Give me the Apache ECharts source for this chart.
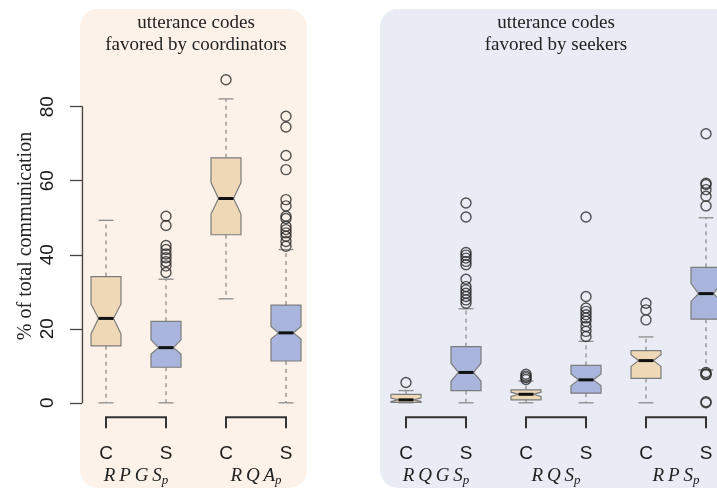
<!DOCTYPE html>
<html>
<head>
<meta charset="utf-8">
<script src="https://cdn.jsdelivr.net/npm/echarts@6/dist/echarts.min.js"></script>
<style>
  html, body { margin: 0; padding: 0; background: #ffffff; }
  #chart { width: 717px; height: 489px; }
</style>
</head>
<body>
<div id="chart"></div>
<script>
// Box positions on the x scale (a gap is left between the two panels)
const positions = [1, 2, 3, 4, 6, 7, 8, 9, 10, 11];
const roles = ['C', 'S', 'C', 'S', 'C', 'S', 'C', 'S', 'C', 'S'];

// Box statistics (% of total communication)
const whiskerLow  = [0,    0,    28.1, 0,    0,    0,    0,    0,    0,    8.9];
const q1          = [15.4, 9.6,  45.4, 11.3, 0.1,  3.3,  0.8,  2.6,  6.6,  22.6];
const notchLow    = [18.6, 13.2, 51.0, 17.2, 0.34, 5.8,  1.73, 4.6,  9.8,  27.4];
const medians     = [22.8, 14.9, 55.2, 18.9, 0.8,  8.2,  2.3,  6.2,  11.4, 29.5];
const notchHigh   = [26.7, 17.0, 59.5, 20.6, 1.26, 10.7, 2.87, 7.8,  13.0, 32.3];
const q3          = [34.1, 22.0, 66.2, 26.4, 2.3,  15.2, 3.5,  10.1, 14.1, 36.6];
const whiskerHigh = [49.3, 33.4, 82.1, 41.4, 3.3,  25.4, 5.9,  16.6, 17.8, 50.0];

const outliers = [
  [],
  [50.4, 47.9, 42.5, 41.4, 40.2, 39.2, 38.1, 37.0, 35.2],
  [87.3],
  [77.4, 74.5, 66.8, 63.0, 54.9, 53.2, 50.4, 49.8, 47.7, 46.8, 45.9, 45.0, 43.6, 42.3],
  [5.5],
  [54.0, 50.2, 40.6, 39.9, 39.1, 38.2, 37.3, 33.4, 31.4, 30.5, 29.6, 28.7, 27.8, 26.9],
  [7.7, 7.2, 6.8, 6.3],
  [50.2, 28.7, 25.6, 24.7, 23.8, 22.9, 22.0, 20.6, 19.3, 17.9],
  [26.9, 25.1, 22.4],
  [72.7, 59.3, 59.0, 57.6, 55.8, 53.2, 8.2, 7.8, 7.6, 0.3, 0]
];

// Code groups: each pairs a coordinator box (C) with a seeker box (S)
const groupNames = ['RPGS', 'RQA', 'RQGS', 'RQS', 'RPS'];
const groupPairs = [[1, 2], [3, 4], [6, 7], [8, 9], [10, 11]];
const groupCenters = groupPairs.map(p => (p[0] + p[1]) / 2);

// Shaded panels and their headings
const panelTitles = ['utterance codes\nfavored by coordinators', 'utterance codes\nfavored by seekers'];
const panelSpans = [[1, 4], [6, 11]];

const yTicks = [0, 20, 40, 60, 80];

const fillC = '#efd8b6';
const fillS = '#a9b5dd';
const panelFill = ['#fcf2e9', '#e9ebf5'];
const serif = '"Liberation Serif", "Times New Roman", serif';
const sans = '"Liberation Sans", Arial, sans-serif';

const BOX_W = 0.5;   // box width in x units

const boxData = positions.map((p, i) => [p, whiskerLow[i], q1[i], notchLow[i], medians[i], notchHigh[i], q3[i], whiskerHigh[i]]);
const outlierData = [];
outliers.forEach((arr, i) => arr.forEach(v => outlierData.push([positions[i], v])));

function renderBox(params, api) {
  const i = params.dataIndex;
  const x = api.value(0);
  const lo = api.value(1), b1 = api.value(2), nl = api.value(3), md = api.value(4),
        nh = api.value(5), b3 = api.value(6), hi = api.value(7);
  const hw = BOX_W / 2;
  const c = (xx, yy) => api.coord([xx, yy]);
  const poly = [
    c(x - hw, b1), c(x - hw, nl), c(x - hw / 2, md), c(x - hw, nh), c(x - hw, b3),
    c(x + hw, b3), c(x + hw, nh), c(x + hw / 2, md), c(x + hw, nl), c(x + hw, b1)
  ];
  const line = (a, b, style) => ({
    type: 'line',
    shape: { x1: a[0], y1: a[1], x2: b[0], y2: b[1] },
    style: style
  });
  const dashStyle = { stroke: '#8d8d8d', lineWidth: 1.3, lineDash: [4, 4] };
  const capStyle = { stroke: '#8d8d8d', lineWidth: 1.3 };
  return {
    type: 'group',
    children: [
      line(c(x, b3), c(x, hi), dashStyle),
      line(c(x, b1), c(x, lo), dashStyle),
      line(c(x - hw / 2, hi), c(x + hw / 2, hi), capStyle),
      line(c(x - hw / 2, lo), c(x + hw / 2, lo), capStyle),
      {
        type: 'polygon',
        shape: { points: poly },
        style: { fill: roles[i] === 'C' ? fillC : fillS, stroke: '#7c7c7c', lineWidth: 1.2 }
      },
      line(c(x - hw / 2, md), c(x + hw / 2, md), { stroke: '#111', lineWidth: 3 })
    ]
  };
}

const chart = echarts.init(document.getElementById('chart'), null, { renderer: 'canvas' });

chart.setOption({
  backgroundColor: '#ffffff',
  animation: false,
  grid: { left: 82, right: 0, top: 106.7, bottom: 86.2, containLabel: false },
  xAxis: [
    {
      type: 'value', min: 0.6, max: 11.18333, z: 10,
      axisLine: { show: false }, axisTick: { show: false }, splitLine: { show: false },
      axisLabel: {
        customValues: positions,
        formatter: v => roles[positions.indexOf(v)] || '',
        margin: 40.6, fontFamily: sans, fontSize: 19, lineHeight: 20, color: '#1a1a1a'
      }
    },
    {
      type: 'value', min: 0.6, max: 11.18333, position: 'bottom', z: 10,
      axisLine: { show: false }, axisTick: { show: false }, splitLine: { show: false },
      axisLabel: {
        customValues: groupCenters,
        formatter: v => {
          const name = groupNames[groupCenters.indexOf(v)] || '';
          return '{m|' + name.split('').join('\u2009') + '}{s|p}';
        },
        margin: 62.2,
        rich: {
          m: { fontFamily: serif, fontStyle: 'italic', fontSize: 19, lineHeight: 22, color: '#222', verticalAlign: 'middle' },
          s: { fontFamily: serif, fontStyle: 'italic', fontSize: 13, lineHeight: 22, color: '#222', verticalAlign: 'bottom' }
        }
      }
    }
  ],
  yAxis: {
    type: 'value', min: 0, max: 80, interval: 20, z: 10,
    axisLine: { show: true, lineStyle: { color: '#444', width: 1.3 } },
    axisTick: { show: true, length: 12, lineStyle: { color: '#444', width: 1.3 } },
    splitLine: { show: false },
    axisLabel: {
      rotate: 90, margin: 25, fontFamily: sans, fontSize: 19, lineHeight: 19, color: '#1a1a1a',
      formatter: v => (yTicks.indexOf(v) >= 0 ? String(v) : '')
    }
  },
  series: [
    {
      // shaded panels behind each set of codes
      type: 'custom', z: -5, clip: false, silent: true,
      data: panelSpans.map((s, k) => [s[0], s[1], k]),
      renderItem: (params, api) => {
        const k = api.value(2);
        const p0 = api.coord([api.value(0) - 0.4333, 106.4]);
        const p1 = api.coord([api.value(1) + (k === 0 ? 0.35 : 1.0), -23.0]);
        return {
          type: 'rect',
          shape: { x: p0[0], y: p0[1], width: p1[0] - p0[0], height: p1[1] - p0[1], r: 18 },
          style: { fill: panelFill[k] }
        };
      }
    },
    {
      // panel headings
      type: 'custom', z: 3, clip: false, silent: true,
      data: panelSpans.map((s, k) => [(s[0] + s[1]) / 2, k]),
      renderItem: (params, api) => {
        const p = api.coord([api.value(0), 99.6]);
        return {
          type: 'text', x: p[0], y: p[1],
          style: {
            text: panelTitles[api.value(1)], font: '19px ' + serif, fill: '#222',
            align: 'center', verticalAlign: 'middle', lineHeight: 22
          }
        };
      }
    },
    {
      // vertical axis title
      type: 'custom', z: 3, clip: false, silent: true,
      data: [[-0.3417, 45.07]],
      renderItem: (params, api) => {
        const p = api.coord([api.value(0), api.value(1)]);
        return {
          type: 'text', x: p[0], y: p[1], rotation: Math.PI / 2,
          style: {
            text: '% of total communication', font: '20px ' + serif, fill: '#222',
            align: 'center', verticalAlign: 'middle'
          }
        };
      }
    },
    {
      // brackets joining each C/S pair
      type: 'custom', z: 3, clip: false, silent: true,
      data: groupPairs,
      renderItem: (params, api) => {
        const a = api.coord([api.value(0), -6.9]);
        const b = api.coord([api.value(0), -3.9]);
        const c = api.coord([api.value(1), -3.9]);
        const d = api.coord([api.value(1), -6.9]);
        return {
          type: 'polyline',
          shape: { points: [a, b, c, d] },
          style: { stroke: '#333', lineWidth: 2, fill: null }
        };
      }
    },
    {
      // notched boxes with whiskers
      type: 'custom', z: 4, clip: false,
      data: boxData,
      renderItem: renderBox
    },
    {
      // outlying values
      type: 'scatter', z: 5, clip: false,
      data: outlierData,
      symbol: 'circle', symbolSize: 10,
      itemStyle: { color: 'rgba(0,0,0,0)', borderColor: '#2a2a2a', borderWidth: 1.4 }
    }
  ]
});
</script>
</body>
</html>
